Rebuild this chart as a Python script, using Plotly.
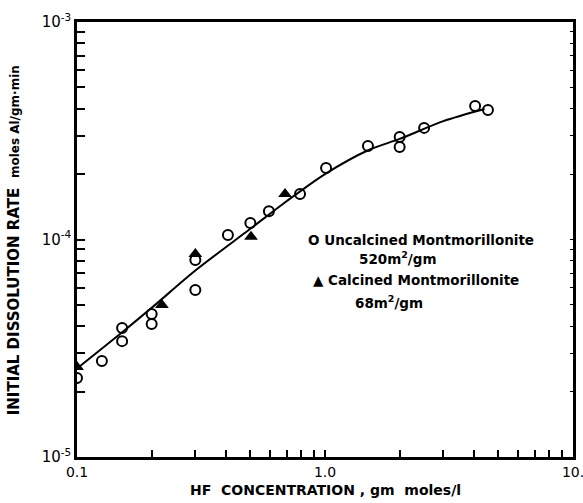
import plotly.graph_objects as go

# Data
unc_x = [0.1, 0.126, 0.152, 0.152, 0.2, 0.2, 0.3, 0.3, 0.406, 0.5, 0.594, 0.793, 1.01, 1.49, 2.0, 2.0, 2.51, 4.03, 4.54]
unc_y = [2.31e-5, 2.76e-5, 3.92e-5, 3.41e-5, 4.54e-5, 4.09e-5, 8.05e-5, 5.86e-5, 1.05e-4, 1.19e-4, 1.35e-4, 1.62e-4, 2.13e-4, 2.69e-4, 2.96e-4, 2.66e-4, 3.26e-4, 4.11e-4, 3.94e-4]

cal_x = [0.1, 0.22, 0.3, 0.503, 0.69]
cal_y = [2.59e-5, 5.0e-5, 8.58e-5, 1.03e-4, 1.62e-4]

fit_x = [0.1, 0.15, 0.2, 0.3, 0.5, 0.7, 1.0, 1.5, 2.0, 3.0, 4.4]
fit_y = [2.55e-5, 3.7e-5, 4.85e-5, 7.2e-5, 1.12e-4, 1.5e-4, 2.0e-4, 2.58e-4, 2.9e-4, 3.5e-4, 3.98e-4]

x_major = [0.1, 1.0, 10.0]
x_major_text = ["0.1", "1.0", "10."]
y_major = [1e-5, 1e-4, 1e-3]
y_major_text = ["10<sup>-5</sup>", "10<sup>-4</sup>", "10<sup>-3</sup>"]

x_title = "<b>HF  CONCENTRATION , gm  moles/l</b>"
y_title = "<b>INITIAL DISSOLUTION RATE</b>  <b><span style='font-size:12px'>moles Al/gm·min</span></b>"

legend_lines = ["<b>O Uncalcined Montmorillonite</b>", "<b>520m<sup>2</sup>/gm</b>",
                "<b>▲ Calcined Montmorillonite</b>", "<b>68m<sup>2</sup>/gm</b>"]

FONT = "DejaVu Sans"

def with_minors(majors, texts):
    vals, txt = [], []
    for i, m in enumerate(majors):
        vals.append(m)
        txt.append(texts[i])
        if i < len(majors) - 1:
            for k in range(2, 10):
                vals.append(m * k)
                txt.append("")
    return vals, txt

xv, xt = with_minors(x_major, x_major_text)
yv, yt = with_minors(y_major, y_major_text)

fig = go.Figure()
fig.add_trace(go.Scatter(x=fit_x, y=fit_y, mode="lines",
                         line=dict(color="black", width=2, shape="spline", smoothing=0.8),
                         showlegend=False, hoverinfo="skip"))
fig.add_trace(go.Scatter(x=unc_x, y=unc_y, mode="markers",
                         marker=dict(symbol="circle-open", size=10, color="black", line=dict(width=2)),
                         showlegend=False))
fig.add_trace(go.Scatter(x=cal_x, y=cal_y, mode="markers",
                         marker=dict(symbol="triangle-up", size=12, color="black"),
                         showlegend=False))
fig.add_trace(go.Scatter(x=[0.1], y=[1e-4], yaxis="y2", mode="markers", marker=dict(opacity=0),
                         showlegend=False, hoverinfo="skip"))

fig.update_layout(
    width=583, height=503,
    margin=dict(l=77, r=10, t=22, b=46),
    paper_bgcolor="white", plot_bgcolor="white",
    font=dict(family=FONT, color="black"),
    xaxis=dict(type="log", range=[-1, 1], tickvals=xv, ticktext=xt, ticks="inside", ticklen=7,
               tickwidth=1.5, tickcolor="black", showline=True, linecolor="black", linewidth=2.5,
               mirror=True, showgrid=False, zeroline=False, automargin=False,
               ticklabeloverflow="allow",
               tickfont=dict(size=14, family=FONT)),
    yaxis=dict(type="log", range=[-5, -3], tickvals=yv, ticktext=yt, ticks="inside", ticklen=8,
               tickwidth=1.5, tickcolor="black", showline=True, linecolor="black", linewidth=2.5,
               mirror=True, showgrid=False, zeroline=False, automargin=False,
               ticklabeloverflow="allow",
               tickfont=dict(size=15, family=FONT)),
    yaxis2=dict(type="log", range=[-5, -3], overlaying="y", side="right", tickvals=yv, showticklabels=False,
                ticks="inside", ticklen=3, tickcolor="black", showgrid=False, zeroline=False, showline=False,
                automargin=False),
)

fig.add_annotation(text=x_title, xref="paper", yref="paper", x=0.5, y=-0.077, showarrow=False,
                   xanchor="center", yanchor="middle", font=dict(size=14, family=FONT, color="black"))
fig.add_annotation(text=y_title, xref="paper", yref="paper", x=-0.128, y=0.497, showarrow=False,
                   textangle=-90, xanchor="center", yanchor="middle", font=dict(size=15, family=FONT, color="black"))

ann_pos = [(0.694, 0.499), (0.647, 0.457), (0.684, 0.407), (0.629, 0.356)]
for text, (xd, yd) in zip(legend_lines, ann_pos):
    fig.add_annotation(text=text, xref="x domain", yref="y domain", x=xd, y=yd, showarrow=False,
                       xanchor="center", yanchor="middle", font=dict(size=13.5, family=FONT, color="black"))

fig.write_html("out.html")
